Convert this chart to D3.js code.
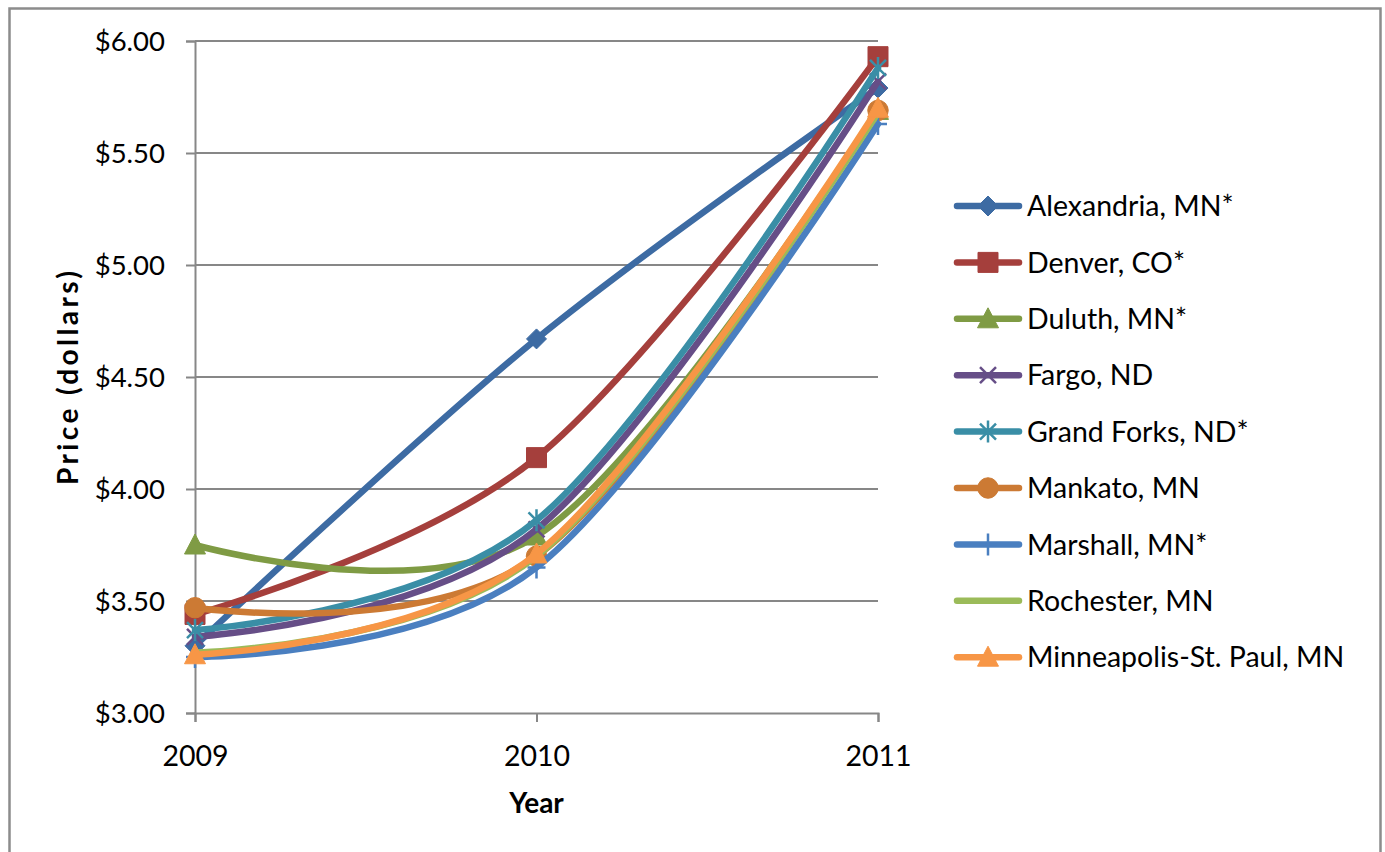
<!DOCTYPE html>
<html>
<head>
<meta charset="utf-8">
<script src="https://cdn.jsdelivr.net/npm/d3@7"></script>
<style>
  html, body { margin: 0; padding: 0; background: #fff; }
  svg { display: block; }
  text { font-family: Lato, "Open Sans", sans-serif; fill: #000; }
</style>
</head>
<body>
<svg id="chart" width="1385" height="852"></svg>
<script>
// Gasoline price by city, 2009–2011
const years = [2009, 2010, 2011];
const cities = [
  "Alexandria, MN*", "Denver, CO*", "Duluth, MN*", "Fargo, ND", "Grand Forks, ND*",
  "Mankato, MN", "Marshall, MN*", "Rochester, MN", "Minneapolis-St. Paul, MN"
];
const alexandria  = [3.30, 4.67, 5.79];
const denver      = [3.44, 4.14, 5.93];
const duluth      = [3.75, 3.79, 5.69];
const fargo       = [3.34, 3.82, 5.82];
const grandForks  = [3.37, 3.86, 5.88];
const mankato     = [3.47, 3.70, 5.69];
const marshall    = [3.25, 3.65, 5.63];
const rochester   = [3.27, 3.70, 5.68];
const minneapolis = [3.26, 3.71, 5.70];
const yTicks = [3.0, 3.5, 4.0, 4.5, 5.0, 5.5, 6.0];

const seriesValues = [alexandria, denver, duluth, fargo, grandForks, mankato, marshall, rochester, minneapolis];
const colors = ["#3d6ba3", "#a53f3c", "#7f9b44", "#664e87", "#3a8ea6", "#cc7a34", "#4a7fc0", "#9bbb59", "#f79646"];
const markers = ["diamond", "square", "triangle", "x", "star", "circle", "plus", "none", "triangle"];

const series = cities.map((name, i) => ({
  name, color: colors[i], marker: markers[i],
  points: years.map((y, j) => ({ year: y, value: seriesValues[i][j] }))
}));

const svg = d3.select("#chart");
const gray = "#878787";

// outer chart frame
svg.append("path")
  .attr("d", "M9.5,860 L9.5,8.5 L1380.5,8.5 L1380.5,860")
  .attr("fill", "none").attr("stroke", "#8c8c8c").attr("stroke-width", 2.5);

const x = d3.scaleLinear().domain([2009, 2011]).range([195, 878]);
const y = d3.scaleLinear().domain([3, 6]).range([713, 41]);

// horizontal gridlines
svg.append("g").selectAll("line").data(yTicks.slice(1)).join("line")
  .attr("x1", x(2009)).attr("x2", x(2011))
  .attr("y1", d => y(d)).attr("y2", d => y(d))
  .attr("stroke", gray).attr("stroke-width", 2);

// y axis
const yAxis = svg.append("g").attr("transform", `translate(${x(2009)},0)`)
  .call(d3.axisLeft(y).tickValues(yTicks).tickFormat(d3.format("$.2f")).tickSize(9).tickPadding(21));
yAxis.select(".domain").attr("stroke", gray).attr("stroke-width", 2);
yAxis.selectAll(".tick line").attr("stroke", gray).attr("stroke-width", 2);
yAxis.selectAll(".tick text").attr("font-size", 27.5).attr("font-family", "Lato, sans-serif").attr("dy", "0.36em").attr("fill", "#000");

// x axis
const xAxis = svg.append("g").attr("transform", `translate(0,${y(3)})`)
  .call(d3.axisBottom(x).tickValues(years).tickFormat(d3.format("d")).tickSize(9).tickPadding(24));
xAxis.select(".domain").attr("stroke", gray).attr("stroke-width", 2);
xAxis.selectAll(".tick line").attr("stroke", gray).attr("stroke-width", 2);
xAxis.selectAll(".tick text").attr("font-size", 28.5).attr("font-family", "Lato, sans-serif").attr("fill", "#000");

// axis titles
svg.append("text").attr("x", x(2010)).attr("y", 813).attr("text-anchor", "middle")
  .attr("font-size", 28).attr("font-weight", "bold").text("Year");
svg.append("text").attr("transform", `translate(78,${(y(3) + y(6)) / 2 + 1}) rotate(-90)`)
  .attr("text-anchor", "middle").attr("font-size", 28).attr("font-weight", "bold")
  .attr("textLength", 214).attr("lengthAdjust", "spacing").text("Price (dollars)");

// marker shapes
function markerPath(type) {
  switch (type) {
    case "diamond": return "M0,-10 L10,0 L0,10 L-10,0 Z";
    case "square": return "M-10,-10 H10 V10 H-10 Z";
    case "triangle": return "M0,-11 L10.5,9 L-10.5,9 Z";
    case "circle": return d3.symbol(d3.symbolCircle, 330)();
    case "x": return "M-8,-8 L8,8 M-8,8 L8,-8";
    case "star": return "M-8,-8 L8,8 M-8,8 L8,-8 M0,-11 L0,11";
    case "plus": return "M0,-11 L0,11 M-9,0 L9,0";
    default: return null;
  }
}
function drawMarker(g, type, color) {
  const p = markerPath(type);
  if (!p) return;
  const filled = ["diamond", "square", "triangle", "circle"].includes(type);
  g.append("path").attr("d", p)
    .attr("fill", filled ? color : "none")
    .attr("stroke", color).attr("stroke-width", filled ? 1 : 2.5);
}

const line = d3.line().x(d => x(d.year)).y(d => y(d.value)).curve(d3.curveCardinal.tension(0));

// series, each line with its own markers, in legend order
series.forEach(s => {
  const g = svg.append("g");
  g.append("path").datum(s.points).attr("d", line)
    .attr("fill", "none").attr("stroke", s.color).attr("stroke-width", 6.5)
    .attr("stroke-linejoin", "round").attr("stroke-linecap", "round");
  s.points.forEach(p => {
    const m = g.append("g").attr("transform", `translate(${x(p.year)},${y(p.value)})`);
    drawMarker(m, s.marker, s.color);
  });
});

// legend
const legend = svg.append("g");
series.forEach((s, i) => {
  const ly = 206 + i * 56.4;
  const row = legend.append("g").attr("transform", `translate(0,${ly})`);
  row.append("line").attr("x1", 957).attr("x2", 1019).attr("y1", 0).attr("y2", 0)
    .attr("stroke", s.color).attr("stroke-width", 6.5).attr("stroke-linecap", "round");
  const m = row.append("g").attr("transform", "translate(988,0)");
  drawMarker(m, s.marker, s.color);
  row.append("text").attr("x", 1027).attr("y", 0).attr("dy", "0.36em")
    .attr("font-size", 28.5).text(s.name);
});
</script>
</body>
</html>
